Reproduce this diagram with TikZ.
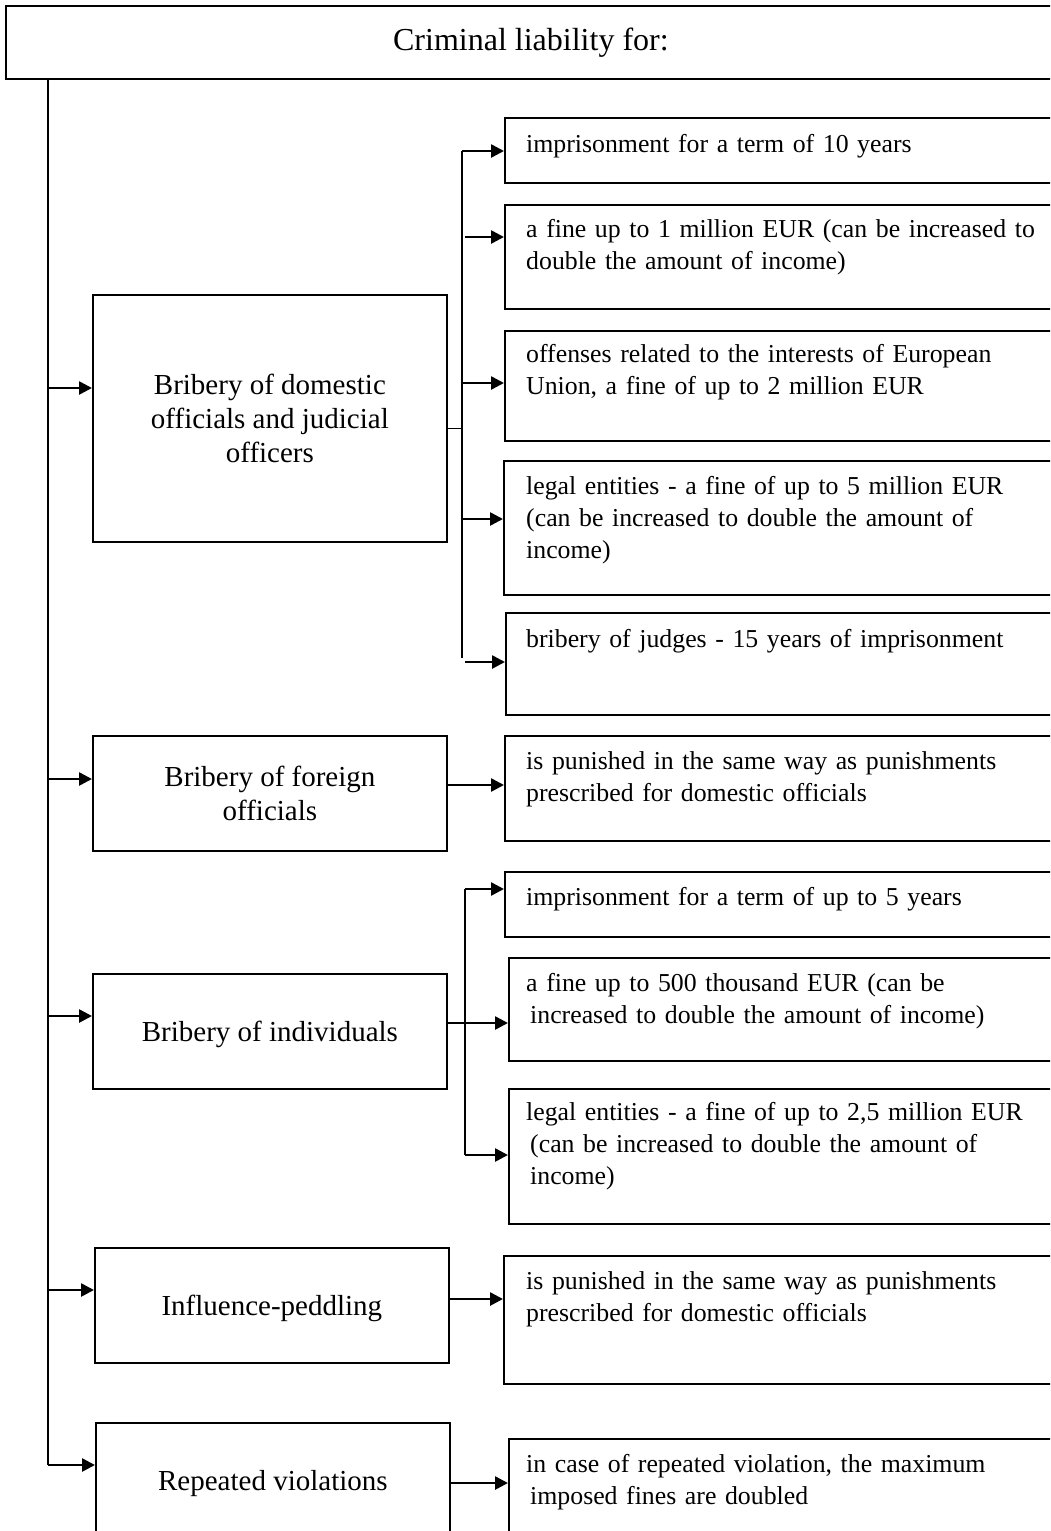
\documentclass[tikz,border=0pt]{standalone}
\usepackage{fontspec}
\setmainfont{Liberation Serif}
\usetikzlibrary{arrows.meta}
\begin{document}
\begin{tikzpicture}[x=1pt,y=-1pt,
  box/.style={draw, line width=1.8pt, inner sep=0pt, anchor=north west},
  lbox/.style={box, minimum width=354pt, minimum height=115pt, align=center, text depth=0pt, font=\fontsize{29}{34}\selectfont},
  rbox/.style={box, minimum width=600pt},
  rtext/.style={anchor=base west, inner sep=0pt, text width=535pt, execute at begin node={\raggedright}, font=\fontsize{25.8}{32}\selectfont},
  conn/.style={line width=2pt},
  thinline/.style={line width=1pt},
  arr/.style={line width=2.6pt, -{Triangle[length=13pt,width=13pt]}}
]
\useasboundingbox (0,0) rectangle (1050,1531);
\fill[white] (0,0) rectangle (1050,1531);
\clip (0,0) rectangle (1050,1531);

% title
\node[box, minimum width=1050pt, minimum height=73pt, font=\fontsize{32}{38}\selectfont] (title) at (5,5) {Criminal liability for:};

% left column
\node[lbox, minimum height=247pt] (dom) at (92,294) {Bribery of domestic\\officials and judicial\\officers};
\node[lbox] (forg) at (92,735) {Bribery of foreign\\officials};
\node[lbox] (ind) at (92,973) {Bribery of individuals};
\node[lbox] (inf) at (94,1247) {Influence-peddling};
\node[lbox] (rep) at (95,1422) {Repeated violations};

% right boxes (domestic)
\node[rbox, minimum height=65pt]  (A) at (504,117) {};
\node[rbox, minimum height=104pt] (B) at (504,204) {};
\node[rbox, minimum height=110pt] (C) at (504,330) {};
\node[rbox, minimum height=134pt] (D) at (503,460) {};
\node[rbox, minimum height=102pt] (E) at (505,612) {};
% foreign
\node[rbox, minimum height=105pt] (F) at (504,735) {};
% individuals
\node[rbox, minimum height=65pt]  (G1) at (504,871) {};
\node[rbox, minimum height=103pt] (G2) at (508,957) {};
\node[rbox, minimum height=135pt] (G3) at (508,1088) {};
% influence
\node[rbox, minimum height=128pt] (H) at (503,1255) {};
% repeated
\node[rbox, minimum height=140pt] (I) at (508,1438) {};

% texts
\node[rtext] (tA) at ([xshift=22pt,yshift=-35pt]A.north west) {imprisonment for a term of 10 years};
\node[rtext] (tB) at ([xshift=22pt,yshift=-33pt]B.north west) {a fine up to 1 million EUR (can be increased to\\double the amount of income)};
\node[rtext] (tC) at ([xshift=22pt,yshift=-32pt]C.north west) {offenses related to the interests of European\\Union, a fine of up to 2 million EUR};
\node[rtext] (tD) at ([xshift=23pt,yshift=-34pt]D.north west) {legal entities - a fine of up to 5 million EUR\\(can be increased to double the amount of\\income)};
\node[rtext] (tE) at ([xshift=21pt,yshift=-35pt]E.north west) {bribery of judges - 15 years of imprisonment};
\node[rtext] (tF) at ([xshift=22pt,yshift=-34pt]F.north west) {is punished in the same way as punishments\\prescribed for domestic officials};
\node[rtext] (tG1) at ([xshift=22pt,yshift=-34pt]G1.north west) {imprisonment for a term of up to 5 years};
\node[rtext] (tG2) at ([xshift=18pt,yshift=-34pt]G2.north west) {a fine up to 500 thousand EUR (can be\\\hspace*{4pt}increased to double the amount of income)};
\node[rtext] (tG3) at ([xshift=18pt,yshift=-32pt]G3.north west) {legal entities - a fine of up to 2,5 million EUR\\\hspace*{4pt}(can be increased to double the amount of\\\hspace*{4pt}income)};
\node[rtext] (tH) at ([xshift=23pt,yshift=-34pt]H.north west) {is punished in the same way as punishments\\prescribed for domestic officials};
\node[rtext] (tI) at ([xshift=18pt,yshift=-34pt]I.north west) {in case of repeated violation, the maximum\\\hspace*{4pt}imposed fines are doubled};

% spine
\coordinate (s0) at (title.south -| 48,0);
\coordinate (s1) at (48,1465);
\draw[conn] (s0) -- (s1);
\draw[arr] (s0 |- 0,388) -- (dom.west |- 0,388);
\draw[arr] (s0 |- 0,779) -- (forg.west |- 0,779);
\draw[arr] (s0 |- 0,1016) -- (ind.west |- 0,1016);
\draw[arr] (s0 |- 0,1290) -- (inf.west |- 0,1290);
\draw[arr] (s1) -- (rep.west |- s1);

% domestic branches
\coordinate (d0) at (462,151);
\coordinate (d1) at (462,658);
\draw[thinline] (dom.east |- 0,428) -- (d0 |- 0,428);
\draw[conn] (d0) -- (d1);
\draw[arr] (d0) -- (A.west |- d0);
\draw[arr] (465,237) -- (B.west |- 0,237);
\draw[arr] (462,383) -- (C.west |- 0,383);
\draw[arr] (462,519) -- (D.west |- 0,519);
\draw[arr] (465,662) -- (E.west |- 0,662);

% foreign
\draw[arr] (forg.east |- 0,785) -- (F.west |- 0,785);

% individuals branches
\coordinate (i0) at (465,889);
\coordinate (i1) at (465,1155);
\draw[conn] (ind.east |- 0,1023) -- (i0 |- 0,1023);
\draw[conn] (i0) -- (i1);
\draw[arr] (i0) -- (G1.west |- i0);
\draw[arr] (i0 |- 0,1023) -- (G2.west |- 0,1023);
\draw[arr] (i1) -- (G3.west |- i1);

% influence
\draw[arr] (inf.east |- 0,1299) -- (H.west |- 0,1299);
% repeated
\draw[arr] (rep.east |- 0,1483) -- (I.west |- 0,1483);
\end{tikzpicture}
\end{document}
